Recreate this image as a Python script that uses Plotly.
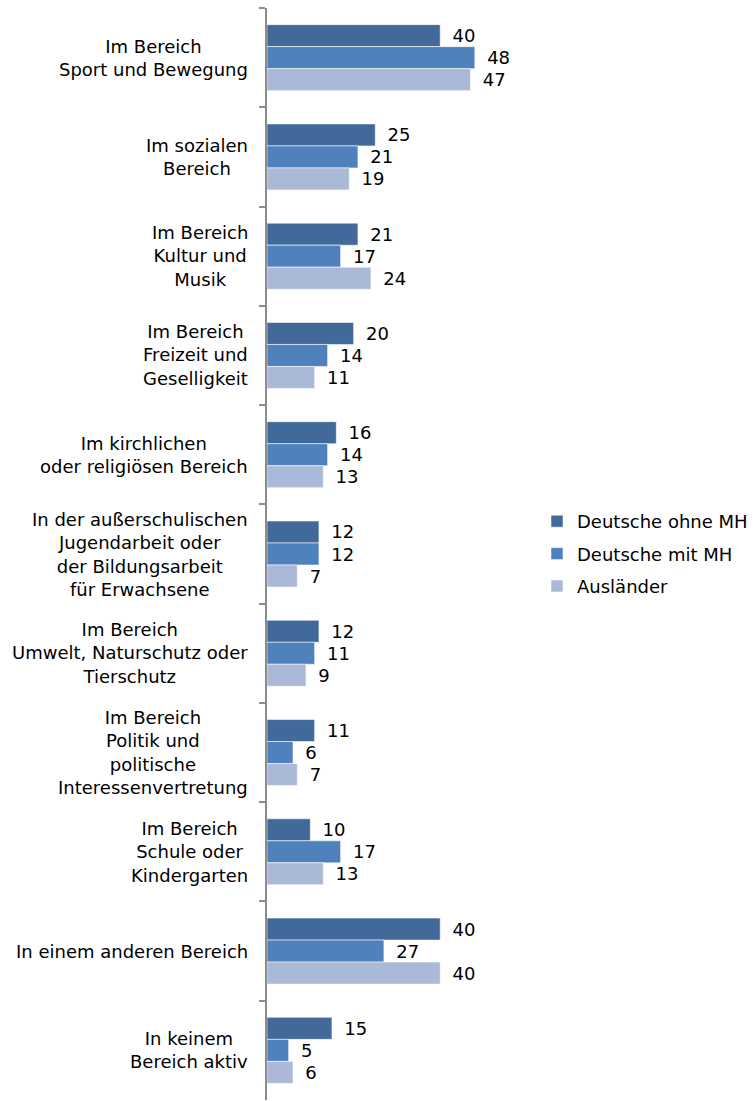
import plotly.graph_objects as go

categories = [
    "Im Bereich<br>Sport und Bewegung",
    "Im sozialen<br>Bereich",
    "Im Bereich<br>Kultur und<br>Musik",
    "Im Bereich<br>Freizeit und<br>Geselligkeit",
    "Im kirchlichen<br>oder religiösen Bereich",
    "In der außerschulischen<br>Jugendarbeit oder<br>der Bildungsarbeit<br>für Erwachsene",
    "Im Bereich<br>Umwelt, Naturschutz oder<br>Tierschutz",
    "Im Bereich<br>Politik und<br>politische<br>Interessenvertretung",
    "Im Bereich<br>Schule oder<br>Kindergarten",
    "In einem anderen Bereich",
    "In keinem<br>Bereich aktiv",
]
series_names = ["Deutsche ohne MH", "Deutsche mit MH", "Ausländer"]
deutsche_ohne_mh = [40, 25, 21, 20, 16, 12, 12, 11, 10, 40, 15]
deutsche_mit_mh = [48, 21, 17, 14, 14, 12, 11, 6, 17, 27, 5]
auslaender = [47, 19, 24, 11, 13, 7, 9, 7, 13, 40, 6]
colors = ["#41699A", "#4F81BD", "#AAB9D8"]

FONT = "DejaVu Sans"
fig = go.Figure()
for i, (name, vals) in enumerate(zip(series_names, [deutsche_ohne_mh, deutsche_mit_mh, auslaender])):
    fig.add_trace(go.Bar(
        y=categories, x=vals, name=name, orientation="h",
        marker=dict(color=colors[i], line=dict(color="rgba(255,255,255,0.55)", width=1)),
        text=vals, texttemplate="\u00a0\u2009%{x}", textposition="outside",
        textfont=dict(family=FONT, size=18, color="#000000"),
        cliponaxis=False, legendgroup=name,
    ))

for c in categories:
    fig.add_annotation(
        x=0, xref="paper", y=c, yref="y", xshift=-17,
        text=c, showarrow=False, xanchor="right", yanchor="middle",
        align="center", font=dict(family=FONT, size=18, color="#000000"),
    )

fig.update_layout(
    width=754, height=1101,
    margin=dict(l=267, r=0, t=8, b=1, autoexpand=False),
    paper_bgcolor="white", plot_bgcolor="white",
    barmode="group", bargap=0.335, bargroupgap=0,
    font=dict(family=FONT, size=18, color="#000000"),
    legend=dict(x=(537 - 267) / 487, y=0.5, xanchor="left", yanchor="middle",
                font=dict(family=FONT, size=18), traceorder="grouped",
                tracegroupgap=6, itemwidth=30),
    showlegend=True,
)
fig.update_xaxes(domain=[0, 273 / 487], range=[0, 63.05], showgrid=False, zeroline=False,
                 showticklabels=False, showline=False, ticks="")
fig.update_yaxes(autorange="reversed", showticklabels=False, showgrid=False,
                 showline=True, linecolor="#8C8C8C", linewidth=2,
                 ticks="outside", ticklen=6, tickcolor="#8C8C8C", tickwidth=1.5,
                 tickson="boundaries")

fig.write_html("out.html")
